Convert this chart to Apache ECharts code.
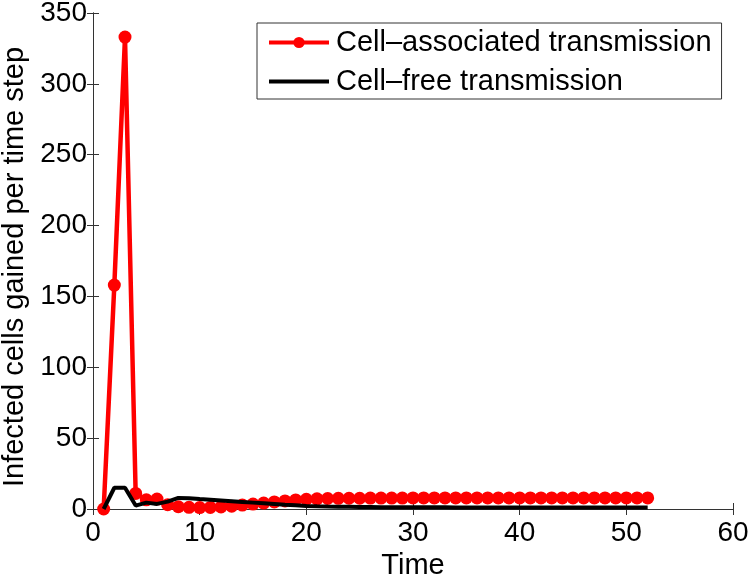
<!DOCTYPE html>
<html>
<head>
<meta charset="utf-8">
<script src="https://cdn.jsdelivr.net/npm/echarts@6/dist/echarts.min.js"></script>
<style>html,body{margin:0;padding:0;background:#fff}#c{width:750px;height:576px}</style>
</head>
<body>
<div id="c"></div>
<script>
var times = [];
for (var i = 1; i <= 52; i++) times.push(i);
var cellAssociated = [0,158,333,11,6.5,7,3,1.6,1.2,1,1.1,1.4,2,2.8,3.5,4.2,5,5.7,6.4,6.9,7.2,7.4,7.5,7.6,7.6,7.7,7.7,7.7,7.7,7.8,7.8,7.8,7.8,7.8,7.8,7.8,7.8,7.8,7.8,7.8,7.8,7.8,7.8,7.8,7.8,7.8,7.8,7.8,7.8,7.8,7.8,7.8];
var cellFree = [0,15,15,2.4,4.5,3.6,5.2,7.8,7.6,7,6.5,6,5.5,5,4.5,4,3.5,3,2.6,2.2,1.9,1.7,1.6,1.5,1.4,1.4,1.3,1.3,1.3,1.2,1.2,1.2,1.2,1.1,1.1,1.1,1.1,1.1,1.1,1.1,1.1,1.0,1.0,1.0,1.0,1.0,1.0,1.0,1.0,1.0,1.0,1.0];
var xTicks = [0,10,20,30,40,50,60];
var yTicks = [0,50,100,150,200,250,300,350];
var seriesNames = ['Cell\u2013associated transmission', 'Cell\u2013free transmission'];

function pairs(ys){ return times.map(function(t,i){ return [t, ys[i]]; }); }
var font = 'Liberation Sans, Arial, Helvetica, sans-serif';
var axisCol = '#333';
var chart = echarts.init(document.getElementById('c'));
chart.setOption({
  animation: false,
  backgroundColor: '#fff',
  grid: { left: 93, right: 17, top: 13, bottom: 67, containLabel: false, outerBoundsMode: 'none' },
  legend: {
    orient: 'vertical', left: 257, top: 23, width: 461,
    padding: [5, 10, 3, 10], itemGap: 10,
    itemWidth: 60, itemHeight: 14,
    borderColor: '#333', borderWidth: 1, backgroundColor: '#fff',
    lineStyle: { width: 4 },
    textStyle: { fontFamily: font, fontSize: 29, color: '#000', padding: [0,0,0,2] },
    data: [
      { name: seriesNames[0] },
      { name: seriesNames[1], itemStyle: { opacity: 0 } }
    ]
  },
  xAxis: [{
    type: 'value', min: xTicks[0], max: xTicks[xTicks.length-1], interval: 10,
    name: 'Time', nameLocation: 'middle', nameGap: 39,
    nameTextStyle: { fontFamily: font, fontSize: 29, color: '#000' },
    axisLine: { show: true, lineStyle: { color: axisCol, width: 1 } },
    axisTick: { show: true, inside: true, length: 6, lineStyle: { color: axisCol } },
    axisLabel: { fontFamily: font, fontSize: 28, color: '#000', margin: 10 },
    splitLine: { show: false }
  }, {
    type: 'value', position: 'top', min: xTicks[0], max: xTicks[xTicks.length-1], interval: 10,
    axisLine: { show: true, lineStyle: { color: axisCol, width: 1 } },
    axisTick: { show: true, inside: true, length: 6, lineStyle: { color: axisCol } },
    axisLabel: { show: false }, splitLine: { show: false }
  }],
  yAxis: [{
    type: 'value', min: yTicks[0], max: yTicks[yTicks.length-1], interval: 50,
    name: 'Infected cells gained per time step', nameLocation: 'middle', nameGap: 63,
    nameTextStyle: { fontFamily: font, fontSize: 29, color: '#000', padding: [0, 12, 0, 0] },
    axisLine: { show: true, lineStyle: { color: axisCol, width: 1 } },
    axisTick: { show: true, inside: true, length: 6, lineStyle: { color: axisCol } },
    axisLabel: { fontFamily: font, fontSize: 28, color: '#000', margin: 6 },
    splitLine: { show: false }
  }, {
    type: 'value', position: 'right', min: yTicks[0], max: yTicks[yTicks.length-1], interval: 50,
    axisLine: { show: true, lineStyle: { color: axisCol, width: 1 } },
    axisTick: { show: true, inside: true, length: 6, lineStyle: { color: axisCol } },
    axisLabel: { show: false }, splitLine: { show: false }
  }],
  series: [{
    name: seriesNames[0], type: 'line', data: pairs(cellAssociated),
    symbol: 'circle', symbolSize: 13, showSymbol: true,
    lineStyle: { color: '#ff0000', width: 4.5 },
    itemStyle: { color: '#ff0000' }, z: 2
  }, {
    name: seriesNames[1], type: 'line', data: pairs(cellFree),
    symbol: 'none', showSymbol: false,
    lineStyle: { color: '#000', width: 4 },
    itemStyle: { color: '#000' }, z: 3
  }]
});
</script>
</body>
</html>
